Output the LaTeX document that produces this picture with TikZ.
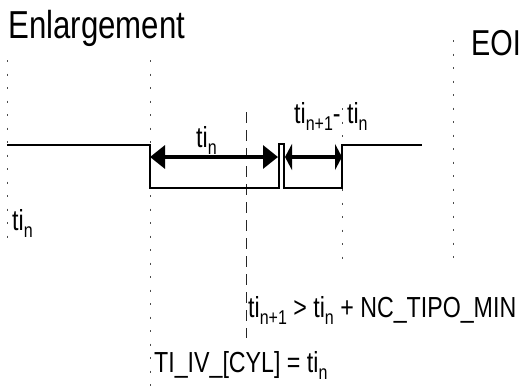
\documentclass[tikz,border=0pt]{standalone}
\usepackage{fontspec}
\setmainfont{Liberation Sans}[FakeStretch=0.8]
\usetikzlibrary{arrows.meta}

\newcommand{\lowidx}[1]{\raisebox{-0.25em}{\fontsize{20}{20}\selectfont #1}}

\begin{document}
\begin{tikzpicture}[
  x=1pt, y=-1pt,
  guide/.style={black!70, line width=0.8pt, dash pattern=on 2pt off 11.5pt},
  cursor/.style={black!85, line width=0.7pt, dash pattern=on 11pt off 7pt},
  signal/.style={line width=2.8pt, line join=miter},
  dim/.style={line width=3.2pt,
    {Triangle[length=15pt,width=23pt]}-{Triangle[length=15pt,width=23pt]}},
  dimshort/.style={line width=3.2pt,
    {Triangle[length=7pt,width=26pt]}-{Triangle[length=7pt,width=26pt]}},
  lbl/.style={anchor=base west, inner sep=0pt, font=\fontsize{29}{29}\selectfont},
  title/.style={anchor=base west, inner sep=0pt, font=\fontsize{39}{39}\selectfont},
]
  \useasboundingbox (0,0) rectangle (525,391);

  % time marks
  \draw[guide]  (7,60)   -- (7,245);
  \draw[guide]  (150,60) -- (150,391);
  \draw[guide]  (342,108) -- (342,266);
  \draw[guide]  (453,40) -- (453,268);
  \draw[cursor] (246,112) -- (246,338);

  % injection signal
  \draw[signal] (7,145) -- (150,145) -- (150,188) -- (279,188) -- (279,144)
    -- (284,144) -- (284,188) -- (342,188) -- (342,145) -- (422,145);

  % dimension ends
  \coordinate (startA) at (150,157);
  \coordinate (endA)   at (278,157);
  \coordinate (startB) at (285,157);
  \coordinate (endB)   at (342,157);
  \draw[dim]      (startA) -- (endA);
  \draw[dimshort] (startB) -- (endB);

  % labels
  \node[title] (enl) at (8,38)  {Enlargement};
  \node[title, font=\fontsize{36}{36}\selectfont] (eoi) at (471,55) {EOI};
  \node[lbl] (tin)   at (196,147) {ti\lowidx{n}};
  \node[lbl] (delta) at (294,123) {ti\lowidx{n+1}- ti\lowidx{n}};
  \node[lbl] (tileft) at (12,230) {ti\lowidx{n}};
  \node[lbl] (cond)  at (248,317) {ti\lowidx{n+1} > ti\lowidx{n} + NC\_TIPO\_MIN};
  \node[lbl] (assign) at (154,372) {TI\_IV\_[CYL] = ti\lowidx{n}};
\end{tikzpicture}
\end{document}
